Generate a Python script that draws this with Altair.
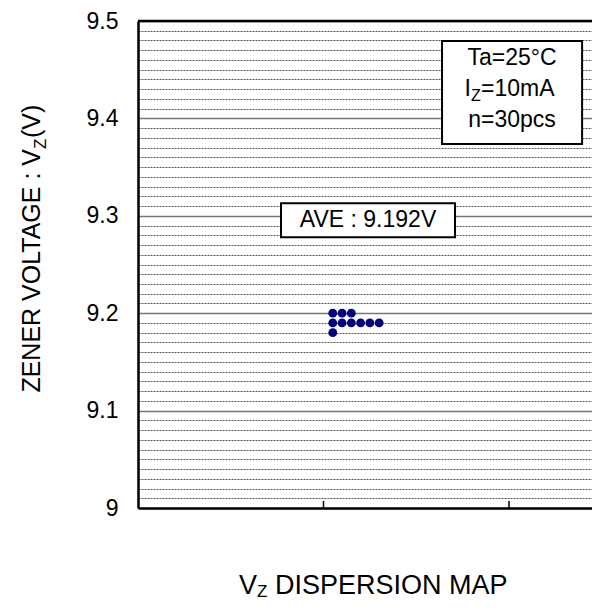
import altair as alt
import pandas as pd

# ---- data ----
X_POS = [1.05, 1.10, 1.15, 1.05, 1.10, 1.15, 1.20, 1.25, 1.30, 1.05]
VZ = [9.20, 9.20, 9.20, 9.19, 9.19, 9.19, 9.19, 9.19, 9.19, 9.18]
X_TICKS = [1, 2]
Y_TICKS = [round(9.0 + i * 0.01, 2) for i in range(51)]

FONT = "Liberation Sans"
W, H = 454, 487
XDOM = [0, 2.4474]
YDOM = [9.0, 9.5]

dots = pd.DataFrame({"x": X_POS, "vz": VZ})
one = pd.DataFrame({"k": [0]})

xs = alt.Scale(domain=XDOM, nice=False, zero=False, padding=0)
ys = alt.Scale(domain=YDOM, nice=False, zero=False, padding=0)

major = "abs(datum.value*10 - round(datum.value*10)) < 0.001"

yaxis = alt.Axis(
    values=Y_TICKS,
    tickCount=200,
    title=None,
    ticks=False,
    labelFont=FONT,
    labelFontSize=23,
    labelColor="black",
    labelPadding=20,
    labelOverlap=False,
    labelExpr=f"{major} ? format(datum.value, '.1~f') : ''",
    domainColor="black",
    domainWidth=2.5,
    grid=True,
    gridColor={"condition": {"test": major, "value": "#777777"}, "value": "#555555"},
    gridWidth={"condition": {"test": major, "value": 1.5}, "value": 1},
    gridDash={"condition": {"test": major, "value": []}, "value": [2, 1]},
)
xaxis = alt.Axis(
    title=None, labels=False, ticks=False, grid=False,
    domainColor="black", domainWidth=2.5,
)

points = alt.Chart(dots).mark_circle(size=78, color="#000080", opacity=1).encode(
    x=alt.X("x:Q", scale=xs, axis=xaxis),
    y=alt.Y("vz:Q", scale=ys, axis=yaxis),
)

top_border = alt.Chart(one).mark_rule(color="black", strokeWidth=2.5).encode(
    y=alt.datum(9.5)
)

ticks = alt.Chart(pd.DataFrame({"t": X_TICKS})).mark_rule(color="black", strokeWidth=1.5).encode(
    x=alt.X("t:Q"), y=alt.value(H), y2=alt.value(H - 7)
)

# annotation boxes (data coordinates)
boxes = pd.DataFrame({
    "x1": [0.771, 1.639], "x2": [1.709, 2.394],
    "y1": [9.313, 9.4795], "y2": [9.278, 9.3737],
})
box_layer = alt.Chart(boxes).mark_rect(fill="white", stroke="black", strokeWidth=2).encode(
    x=alt.X("x1:Q"), x2="x2:Q",
    y=alt.Y("y1:Q"), y2="y2:Q"
)


def txt(x, y, s, size, align="center", dx=0, dy=0, baseline="middle", angle=None, px=False):
    kw = dict(text=s, font=FONT, fontSize=size, fontWeight="normal", align=align,
              baseline=baseline, dx=dx, dy=dy, color="black")
    if angle is not None:
        kw["angle"] = angle
    if px:
        enc = dict(x=alt.value(x), y=alt.value(y))
    else:
        enc = dict(x=alt.datum(x), y=alt.datum(y))
    return alt.Chart(one).mark_text(**kw).encode(**enc)


AS = 23
TB = 573
texts = [
    txt(1.24, 9.2955, "AVE : 9.192V", AS),
    txt(2.016, 9.4615, "Ta=25°C", AS),
    txt(2.016, 9.4305, "=10mA", AS, align="left", dx=-31),
    txt(2.016, 9.4305, "I", AS, align="right", dx=-41),
    txt(2.016, 9.4305, "Z", 16, align="left", dx=-41, dy=7),
    txt(2.016, 9.3985, "n=30pcs", AS),
    # y title (rotated)
    txt(-98, 128, "ZENER VOLTAGE : V", 25, align="right", baseline="alphabetic", angle=270, px=True),
    txt(-92, 128, "Z", 17, align="left", baseline="alphabetic", angle=270, px=True),
    txt(-98, 117, "(V)", 25, align="left", baseline="alphabetic", angle=270, px=True),
    # x title
    txt(101, TB, "V", 27, align="left", baseline="alphabetic", px=True),
    txt(119, TB + 3, "Z", 17, align="left", baseline="alphabetic", px=True),
    txt(137, TB, "DISPERSION MAP", 27, align="left", baseline="alphabetic", px=True),
]

chart = alt.layer(points, top_border, ticks, box_layer, *texts).properties(
    width=W, height=H,
    autosize=alt.AutoSizeParams(type="none"),
    padding={"left": 130, "top": 13, "right": 0, "bottom": 95},
    background="white",
).configure_view(stroke=None)

chart.save("out.html", embed_options={"renderer": "svg", "actions": False})
